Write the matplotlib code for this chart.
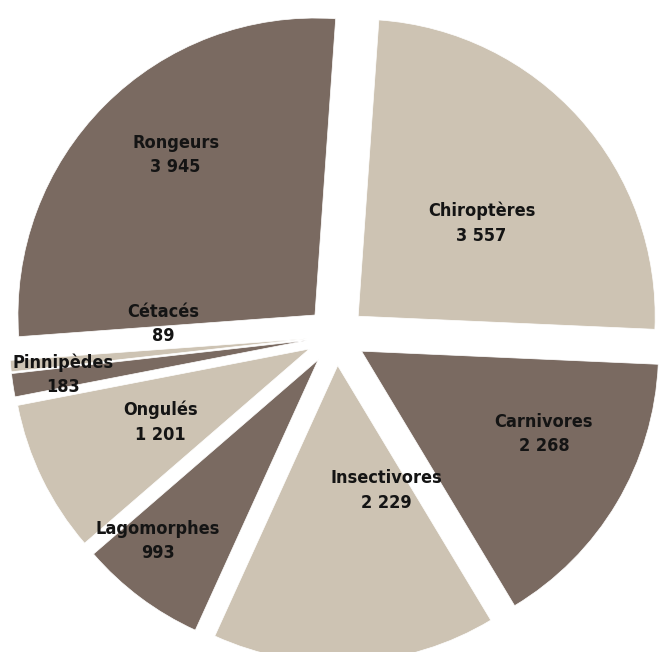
import matplotlib.pyplot as plt

# effectifs d'especes de mammiferes par ordre
ordres = ["Chiroptères", "Carnivores", "Insectivores", "Lagomorphes",
          "Ongulés", "Pinnipèdes", "Cétacés", "Rongeurs"]
effectifs = [3557, 2268, 2229, 993, 1201, 183, 89, 3945]
etiquettes = ["3 557", "2 268", "2 229", "993", "1 201", "183", "89", "3 945"]

dark = "#7a6a61"
light = "#cdc3b3"
couleurs = [light, dark, light, dark, light, dark, light, dark]
explode = [0.1] * 8

# where the labels sit (data units, pie radius = 1)
label_pos = [(0.49, 0.38), (0.70, -0.33), (0.17, -0.52), (-0.60, -0.69),
             (-0.59, -0.29), (-0.92, -0.13), (-0.58, 0.04), (-0.54, 0.61)]

cx, cy, R = 336, 336, 297
W, H = 661, 652

fig = plt.figure(figsize=(W / 100, H / 100), dpi=100)
ax = fig.add_axes([0, 0, 1, 1])
ax.pie(effectifs, colors=couleurs, explode=explode, startangle=86,
       counterclock=False, radius=1,
       wedgeprops=dict(edgecolor="white", linewidth=0.5))
ax.set_xlim(-cx / R, (W - cx) / R)
ax.set_ylim(-(H - cy) / R, cy / R)
ax.set_aspect("auto")
ax.axis("off")

for nom, txt, (x, y) in zip(ordres, etiquettes, label_pos):
    ax.text(x, y, nom + "\n" + txt, ha="center", va="center",
            fontsize=13, fontweight="bold", fontstretch="condensed",
            linespacing=1.45, family=["DejaVu Sans"], color="#141414")

plt.savefig("out.png", dpi=100)
